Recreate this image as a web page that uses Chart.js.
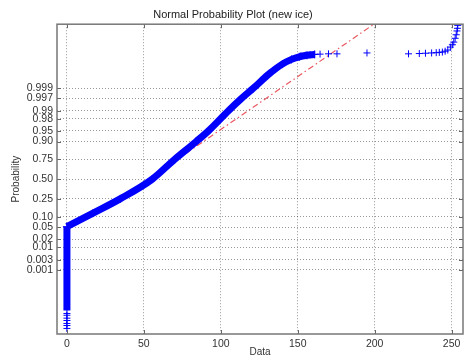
<!DOCTYPE html>
<html>
<head>
<meta charset="utf-8">
<script src="https://cdn.jsdelivr.net/npm/chart.js@4.4.0/dist/chart.umd.min.js"></script>
<style>
html,body{margin:0;padding:0;background:#fff}
canvas{display:block}
</style>
</head>
<body>
<canvas id="c" width="468" height="360"></canvas>
<script>
// y values are normal quantiles (z), the axis is labelled in probability
const xTicks=[0,50,100,150,200,250];
const yTickLabels=["0.001","0.003","0.01","0.02","0.05","0.10","0.25","0.50","0.75","0.90","0.95","0.98","0.99","0.997","0.999"];
const yTickProbs=[0.001,0.003,0.01,0.02,0.05,0.10,0.25,0.50,0.75,0.90,0.95,0.98,0.99,0.997,0.999];

// column of zeros at the bottom
const zeroX=[0,0];
const zeroZ=[-4.48,-1.62];

// dense main band
const bandX=[0,17,34.6,55.5,70,84,92,105,113.5,121,131.5,140,146,151,156,161];
const bandZ=[-1.62,-1.16,-0.674,0,0.674,1.28,1.645,2.33,2.75,3.09,3.59,3.92,4.08,4.17,4.22,4.25];

// sparse points at the ends
const tailX=[0,0,0,0,0,0,0,
  152,155,158,161,164.5,170,175.5,195,
  222,229,233,237,240,242,244,245.8,247.5,249.2,250.5,251.4,252.3,253,253.5,253.8,254];
const tailZ=[-4.58,-4.64,-4.74,-4.82,-4.92,-4.99,-5.09,
  4.2,4.22,4.24,4.25,4.26,4.27,4.27,4.3,
  4.27,4.28,4.29,4.3,4.31,4.32,4.33,4.36,4.4,4.5,4.58,4.67,4.8,4.92,5.05,5.14,5.24];

// reference line through the quartiles
const refX=[34,199.2];
const refZ=[-0.69,5.27];

function norminv(p){
  const a=[-3.969683028665376e+01,2.209460984245205e+02,-2.759285104469687e+02,1.383577518672690e+02,-3.066479806614716e+01,2.506628277459239e+00];
  const b=[-5.447609879822406e+01,1.615858368580409e+02,-1.556989798598866e+02,6.680131188771972e+01,-1.328068155288572e+01];
  const c=[-7.784894002430293e-03,-3.223964580411365e-01,-2.400758277161838e+00,-2.549732539343734e+00,4.374664141464968e+00,2.938163982698783e+00];
  const d=[7.784695709041462e-03,3.224671290700398e-01,2.445134137142996e+00,3.754408661907416e+00];
  const pl=0.02425;
  let q,r;
  if(p<pl){
    q=Math.sqrt(-2*Math.log(p));
    return (((((c[0]*q+c[1])*q+c[2])*q+c[3])*q+c[4])*q+c[5])/((((d[0]*q+d[1])*q+d[2])*q+d[3])*q+1);
  }
  if(p>1-pl){
    q=Math.sqrt(-2*Math.log(1-p));
    return -(((((c[0]*q+c[1])*q+c[2])*q+c[3])*q+c[4])*q+c[5])/((((d[0]*q+d[1])*q+d[2])*q+d[3])*q+1);
  }
  q=p-0.5;r=q*q;
  return (((((a[0]*r+a[1])*r+a[2])*r+a[3])*r+a[4])*r+a[5])*q/(((((b[0]*r+b[1])*r+b[2])*r+b[3])*r+b[4])*r+1);
}

const pts=(xs,ys)=>xs.map((v,i)=>({x:v,y:ys[i]}));
const FONT="'Liberation Sans', Arial, sans-serif";
const BLUE="#0000ff";

// box round the axes + inward tick marks, matlab style
const frame={
  id:"frame",
  afterDatasetsDraw(chart){
    const {ctx,chartArea:a,scales:{x,y}}=chart;
    ctx.save();
    ctx.strokeStyle="#666";
    ctx.lineWidth=1;
    ctx.beginPath();
    x.ticks.forEach(t=>{
      const px=Math.round(x.getPixelForValue(t.value))+0.5;
      ctx.moveTo(px,a.bottom);ctx.lineTo(px,a.bottom-4);
      ctx.moveTo(px,a.top);ctx.lineTo(px,a.top+4);
    });
    y.ticks.forEach(t=>{
      const py=Math.round(y.getPixelForValue(t.value))+0.5;
      ctx.moveTo(a.left,py);ctx.lineTo(a.left+4,py);
      ctx.moveTo(a.right,py);ctx.lineTo(a.right-4,py);
    });
    ctx.stroke();
    ctx.strokeStyle="#777";
    ctx.lineWidth=1.5;
    ctx.strokeRect(a.left,a.top,a.right-a.left,a.bottom-a.top);
    ctx.restore();
  }
};

new Chart(document.getElementById("c"),{
  type:"scatter",
  data:{
    datasets:[
      {
        data:pts(zeroX,zeroZ),
        showLine:true,
        borderColor:BLUE,
        borderWidth:7,
        pointRadius:0,
        order:1
      },
      {
        data:pts(bandX,bandZ),
        showLine:true,
        cubicInterpolationMode:"monotone",
        borderColor:BLUE,
        borderWidth:7,
        borderJoinStyle:"round",
        pointStyle:"cross",
        pointRadius:4,
        pointBorderWidth:1,
        pointBorderColor:BLUE,
        order:1
      },
      {
        data:pts(tailX,tailZ),
        showLine:false,
        pointStyle:"cross",
        pointRadius:3.5,
        pointBorderWidth:1,
        pointBorderColor:BLUE,
        order:1
      },
      {
        data:pts(refX,refZ),
        showLine:true,
        borderColor:"rgba(232,70,80,0.9)",
        borderWidth:1.2,
        borderDash:[6,3,1.5,3],
        pointRadius:0,
        order:2
      }
    ]
  },
  options:{
    responsive:false,
    animation:false,
    events:[],
    layout:{padding:{left:0,right:2,top:0,bottom:0}},
    plugins:{
      legend:{display:false},
      tooltip:{enabled:false},
      title:{
        display:true,
        text:"Normal Probability Plot (new ice)",
        color:"#222",
        font:{family:FONT,size:11,weight:"normal"},
        padding:{top:8,bottom:3}
      }
    },
    scales:{
      x:{
        type:"linear",
        min:-6.45,
        max:257.4,
        afterFit(s){s.height=26;},
        afterBuildTicks(s){s.ticks=xTicks.map(v=>({value:v}));},
        ticks:{color:"#333",font:{family:FONT,size:10.5},padding:4,autoSkip:false,maxRotation:0},
        grid:{color:"rgba(0,0,0,0.4)",drawTicks:false},
        border:{display:false,dash:[1,2]},
        title:{display:true,text:"Data",color:"#333",font:{family:FONT,size:10},padding:{top:0,bottom:2}}
      },
      y:{
        type:"linear",
        min:-5.28,
        max:5.28,
        afterFit(s){s.width=57;},
        afterBuildTicks(s){s.ticks=yTickProbs.map(p=>({value:norminv(p)}));},
        ticks:{color:"#333",font:{family:FONT,size:10.5},padding:4,autoSkip:false,
          callback:(v,i)=>yTickLabels[i]},
        grid:{color:"rgba(0,0,0,0.4)",drawTicks:false},
        border:{display:false,dash:[1,2]},
        title:{display:true,text:"Probability",color:"#333",font:{family:FONT,size:10},padding:{top:10,bottom:0}}
      }
    }
  },
  plugins:[frame]
});
</script>
</body>
</html>
